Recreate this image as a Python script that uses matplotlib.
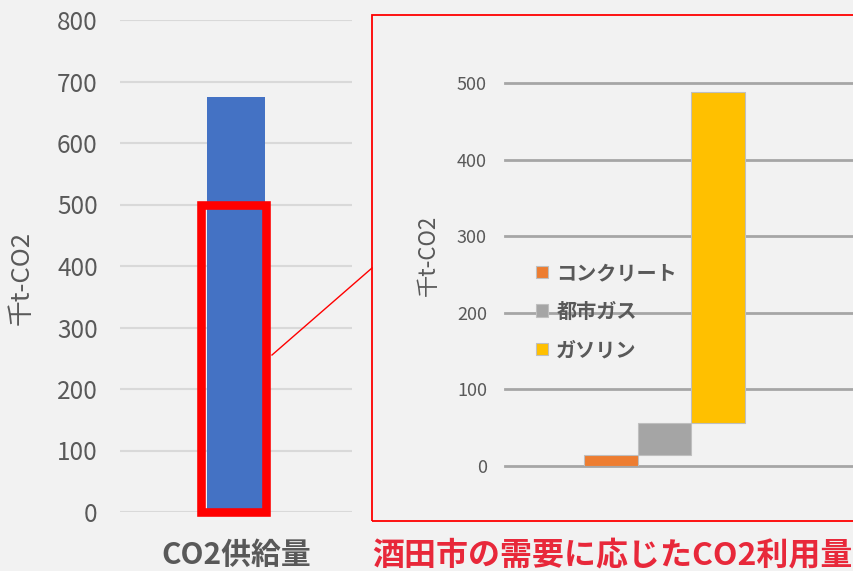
import matplotlib
matplotlib.use('Agg')
import matplotlib.pyplot as plt
from matplotlib.patches import Rectangle
from matplotlib.lines import Line2D

plt.rcParams['font.family'] = ['Noto Sans CJK JP', 'DejaVu Sans']

# 左: CO2供給量
supply_label = 'CO2供給量'
supply_value = 675
left_ticks = [0, 100, 200, 300, 400, 500, 600, 700, 800]

# 右: 需要に応じた利用量（積み上げ）
use_names = ['コンクリート', '都市ガス', 'ガソリン']
use_values = [14, 42, 432]
use_colors = ['#ED7D31', '#A5A5A5', '#FFC000']
right_ticks = [0, 100, 200, 300, 400, 500]
right_title = '酒田市の需要に応じたCO2利用量'

W, H = 854, 571
BG = '#F2F2F2'
TXT = '#595959'

fig = plt.figure(figsize=(W / 100, H / 100), dpi=100, facecolor=BG)


def px(x0, y0, x1, y1):
    # ピクセル座標(左上基準) -> figure 比率
    return [x0 / W, 1 - y1 / H, (x1 - x0) / W, (y1 - y0) / H]


# ---- 左のグラフ
ax1 = fig.add_axes(px(120, 20, 352, 512), facecolor=BG)
ax1.bar([0], [supply_value], width=1.0, color='#4472C4', zorder=2)
ax1.set_xlim(-2, 2)
ax1.set_ylim(0, 800)
ax1.set_yticks(left_ticks)
ax1.set_xticks([])
ax1.tick_params(axis='y', length=0, pad=16, labelsize=17.5, labelcolor=TXT)
ax1.grid(axis='y', color='#D9D9D9', lw=1.5, zorder=0)
for s in ax1.spines.values():
    s.set_visible(False)
ax1.set_ylabel('千t-CO2', fontsize=18.5, color=TXT)
ax1.yaxis.set_label_coords(-0.37, 0.475)

# 赤枠（0〜500の部分）
ax1.add_patch(Rectangle((-0.6, 0), 1.12, 500, fill=False, ec='red', lw=6.2,
                        zorder=3, clip_on=False))

# ---- 右の枠と引き出し線
fig.add_artist(Rectangle((372 / W, 1 - 521 / H), 500 / W, 506 / H,
                         transform=fig.transFigure, fill=False, ec='red', lw=1.3))
fig.add_artist(Line2D([272 / W, 372 / W], [1 - 355 / H, 1 - 268 / H],
                      transform=fig.transFigure, color='red', lw=1))

# ---- 右のグラフ（ウォーターフォール）
ax2 = fig.add_axes(px(505, 83, 860, 466), facecolor='none')
bottom = 0
handles = []
for i, (v, c) in enumerate(zip(use_values, use_colors)):
    b = ax2.bar([i], [v], bottom=bottom, width=1.0, color=c, ec='#BFBFBF',
                lw=0.8, zorder=2, label=use_names[i])
    handles.append(b)
    bottom += v
ax2.set_xlim((505 - 611) / 53.5, (860 - 611) / 53.5)
ax2.set_ylim(0, 500)
ax2.set_yticks(right_ticks)
ax2.set_xticks([])
ax2.tick_params(axis='y', length=0, pad=13, labelsize=13, labelcolor=TXT)
ax2.grid(axis='y', color='#A6A6A6', lw=2, zorder=0)
for s in ax2.spines.values():
    s.set_visible(False)
for line in ax2.get_ygridlines():
    line.set_clip_on(False)
ax2.set_ylabel('千t-CO2', fontsize=16, color=TXT)
ax2.yaxis.set_label_coords(-0.183, 0.55)

leg = fig.legend(handles=handles, labels=use_names, loc='upper left',
                 bbox_to_anchor=(518 / W, 1 - 244 / H), frameon=False,
                 handlelength=0.6, handleheight=0.6, handletextpad=0.4,
                 labelspacing=0.87, prop={'size': 14.5, 'weight': 'bold'})
for t in leg.get_texts():
    t.set_color(TXT)

# ---- 下の見出し
fig.text(236 / W, 1 - 555 / H, supply_label, ha='center', va='center',
         fontsize=21.5, fontweight='bold', color=TXT)
fig.text(612 / W, 1 - 555 / H, right_title, ha='center', va='center',
         fontsize=23, fontweight='bold', color='#E8283A')

fig.savefig('out.png', dpi=100, facecolor=BG)
